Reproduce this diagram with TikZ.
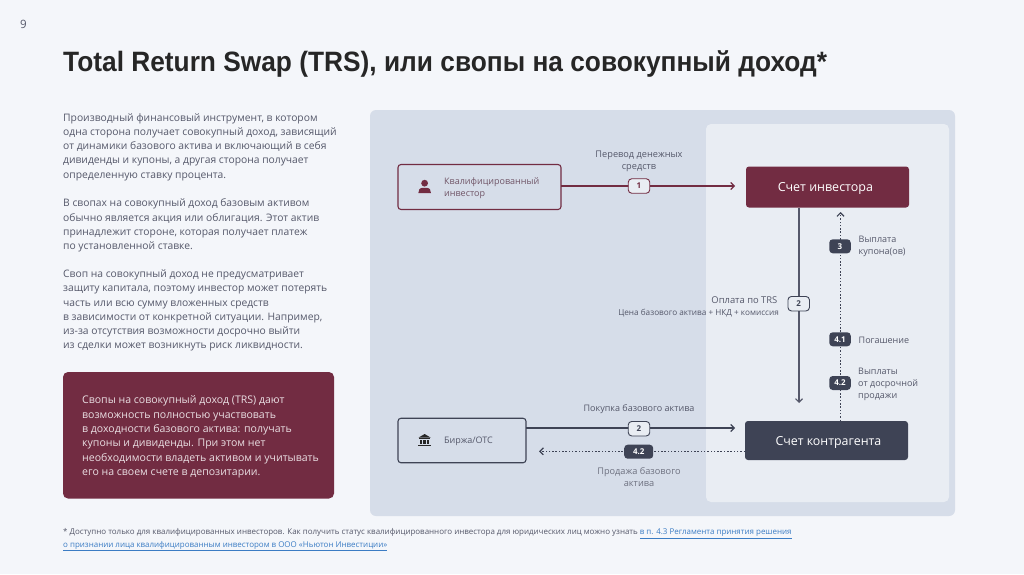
\documentclass[tikz,border=0pt]{standalone}
\usepackage{fontspec}
\setmainfont{Open Sans}
\newfontfamily\titlefont{Liberation Sans}
\usetikzlibrary{arrows.meta}
\definecolor{pagebg}{HTML}{F4F6FA}
\definecolor{panelouter}{HTML}{D6DDE9}
\definecolor{panelinner}{HTML}{E9EDF3}
\definecolor{wine}{HTML}{722C42}
\definecolor{slatebox}{HTML}{3E4355}
\definecolor{bodytext}{HTML}{55586A}
\definecolor{lighttext}{HTML}{6E7180}
\definecolor{linkblue}{HTML}{3B7CC4}
\tikzset{
  para/.style={anchor=west,inner sep=0pt,align=left,text=bodytext,font=\fontsize{10.3}{14.2}\selectfont},
  lab/.style={inner sep=0pt,yshift=-1.5pt,align=center,text=bodytext,font=\fontsize{9}{12}\selectfont},
  labw/.style={lab,font=\fontsize{9.2}{12}\selectfont},
  labl/.style={lab,align=left,anchor=west},
  entity/.style={draw,rounded corners=3pt,line width=1.1pt,inner sep=0pt},
  account/.style={rounded corners=3pt,inner sep=0pt,text=white,font=\fontsize{12.6}{15}\selectfont},
  bopen/.style={draw=#1,fill=panelinner,rounded corners=3.5pt,line width=.9pt,inner sep=0pt,minimum width=21.5pt,minimum height=14.5pt,text=#1,font=\fontsize{8}{9}\selectfont\bfseries},
  bfill/.style={fill=slatebox,rounded corners=3.5pt,inner sep=0pt,minimum width=21.5pt,minimum height=14pt,text=white,font=\fontsize{8}{9}\selectfont\bfseries},
  barb/.style={-{Straight Barb[length=3.5pt,width=7pt]}},
  solidw/.style={barb,draw=wine,line width=1.1pt},
  solids/.style={barb,draw=slatebox,line width=1.1pt},
  dots/.style={barb,draw=slatebox,line width=1.2pt,dash pattern=on 1.5pt off 1.8pt},
}
\begin{document}
\begin{tikzpicture}[x=1pt,y=-1pt]
\useasboundingbox (0,0) rectangle (1024,574);
\fill[pagebg] (0,0) rectangle (1024,574);
\node[text=bodytext,inner sep=0pt,font=\fontsize{11.5}{13}\selectfont] (pageno) at (23.5,24.5) {9};
\node[anchor=west,inner sep=0pt,text=black!85,font=\fontsize{28}{32}\selectfont\titlefont\bfseries] (title) at (63,64) {\scalebox{.939}[1]{Total Return Swap (TRS), или свопы на совокупный доход*}};

\node[para] (p1) at (63,147) {Производный финансовый инструмент, в котором\\одна сторона получает совокупный доход, зависящий\\от динамики базового актива и включающий в себя\\дивиденды и купоны, а другая сторона получает\\определенную ставку процента.};
\node[para] (p2) at (63,225.5) {В свопах на совокупный доход базовым активом\\обычно является акция или облигация. Этот актив\\принадлежит стороне, которая получает платеж\\по установленной ставке.};
\node[para] (p3) at (63,310.5) {Своп на совокупный доход не предусматривает\\защиту капитала, поэтому инвестор может потерять\\часть или всю сумму вложенных средств\\в зависимости от конкретной ситуации. Например,\\из-за отсутствия возможности досрочно выйти\\из сделки может возникнуть риск ликвидности.};

\fill[wine,rounded corners=5pt] (63,372) rectangle (334,498.5);
\node[para,text=white!85!wine,font=\fontsize{10.55}{14.35}\selectfont] (p4) at (82,437) {Свопы на совокупный доход (TRS) дают\\возможность полностью участвовать\\в доходности базового актива: получать\\купоны и дивиденды. При этом нет\\необходимости владеть активом и учитывать\\его на своем счете в депозитарии.};

\fill[panelouter,rounded corners=6pt] (370,110) rectangle (955,516);
\fill[panelinner,rounded corners=5pt] (706,124) rectangle (949,502);

\node[entity,draw=wine,minimum width=163pt,minimum height=45pt] (inv) at (479.5,187) {};
\node[entity,draw=slatebox,minimum width=128pt,minimum height=44.5pt] (exch) at (462,440.5) {};
\node[account,fill=wine,minimum width=163pt,minimum height=41pt] (acci) at (827.5,187) {};
\node[text=white,inner sep=0pt,font=\fontsize{12.5}{15}\selectfont] (accit) at (825.5,188) {Счет инвестора};
\node[account,fill=slatebox,minimum width=163pt,minimum height=39pt] (accc) at (826.5,440.5) {};
\node[text=white,inner sep=0pt,font=\fontsize{12.4}{15}\selectfont] (accct) at (828.5,442) {Счет контрагента};

% icons
\fill[wine] (424.6,183.2) circle (3.4pt);
\fill[wine] (418.3,193.2) -- (419.3,189.4) [rounded corners=1pt] -- (421,187.8) -- (428.2,187.8) [sharp corners] -- (430,189.4) -- (431,193.2) -- cycle;
\fill[black!85] (418.5,437.6) -- (424.6,434) -- (430.7,437.6) -- cycle;
\fill[black!85] (419,438.3) rectangle (430.2,439.4);
\foreach \xx in {420,423.4,426.8}{\fill[black!85] (\xx,440) rectangle ++(2.2,4);}
\fill[black!85] (418.3,444.6) rectangle (430.9,446.4);

\node[labl,text=lighttext!60!wine] (invt) at (444,187) {Квалифицированный\\инвестор};
\node[labl] (excht) at (444,440) {Биржа/ОТС};

% connectors
\coordinate (t1) at (735,186);
\coordinate (s1) at (561,186);
\draw[solidw] (s1) -- (t1);
\node[bopen=wine] (b1) at (639,186) {1};

\coordinate (s2) at (799,207.5);
\coordinate (t2) at (799,403);
\draw[barb,draw=bodytext,line width=1.1pt] (s2) -- (t2);
\node[bopen=slatebox] (b2) at (798.7,303.7) {2};

\coordinate (s3) at (840.5,421);
\coordinate (t3) at (840.5,212);
\draw[dots] (s3) -- (t3);
\node[bfill] (b3) at (840,246.3) {3};
\node[bfill] (b41) at (840,339.3) {4.1};
\node[bfill] (b42) at (840,383) {4.2};

\coordinate (s4) at (526,428);
\coordinate (t4) at (735,428);
\draw[solids] (s4) -- (t4);
\node[bopen=slatebox] (b2b) at (639,428.7) {2};

\coordinate (s5) at (745,451.3);
\coordinate (t5) at (539,451.3);
\draw[dots] (s5) -- (t5);
\node[bfill,minimum width=29pt] (b42b) at (638.7,451.7) {4.2};

% labels
\node[labw] (l1) at (639,160) {Перевод денежных\\средств};
\node[lab,anchor=east,font=\fontsize{9.4}{12}\selectfont] (l2) at (777.6,298.7) {Оплата по TRS};
\node[lab,anchor=east,font=\fontsize{8.2}{10}\selectfont] (l2b) at (779,312) {Цена базового актива + НКД + комиссия};
\node[labl] (l3) at (858.5,245) {Выплата\\купона(ов)};
\node[labl] (l41) at (858.5,339) {Погашение};
\node[labl] (l42) at (858,383) {Выплаты\\от досрочной\\продажи};
\node[lab] (l4) at (639,408) {Покупка базового актива};
\node[labw,text=lighttext] (l5) at (639,475.7) {Продажа базового\\актива};

\node[anchor=west,inner sep=0pt,align=left,text=bodytext,font=\fontsize{7.96}{12.3}\selectfont] (fn) at (63,540) {* Доступно только для квалифицированных инвесторов. Как получить статус квалифицированного инвестора для юридических лиц можно узнать \textcolor{linkblue}{\underline{в п. 4.3 Регламента принятия решения}}\\\textcolor{linkblue}{\underline{о признании лица квалифицированным инвестором в ООО «Ньютон Инвестиции»}}};
\end{tikzpicture}
\end{document}
